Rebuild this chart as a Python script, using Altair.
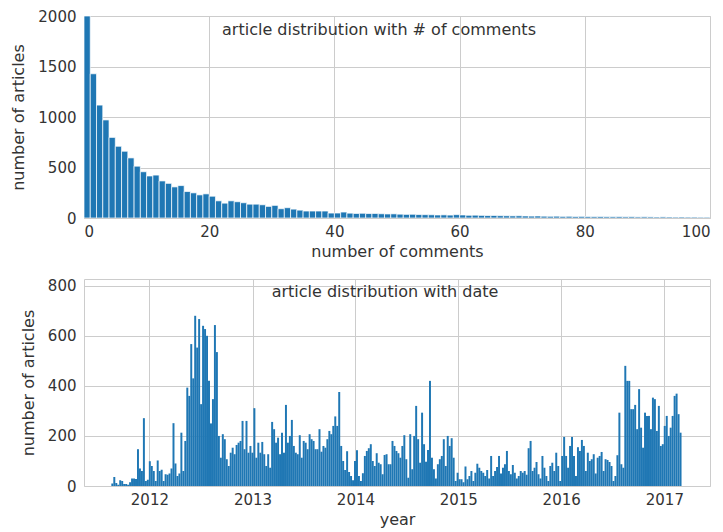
import altair as alt
import pandas as pd

# ---------------- top panel: histogram of comment counts ----------------
comment_bins = list(range(100))
comment_counts = [
    2000, 1428, 1118, 971, 798, 710, 661, 595, 513, 458,
    416, 425, 367, 343, 308, 321, 262, 249, 229, 239,
    216, 170, 147, 170, 161, 151, 137, 137, 131, 115,
    125, 92, 102, 88, 78, 69, 69, 69, 69, 49,
    49, 59, 48, 45, 47, 44, 45, 42, 40, 41,
    38, 36, 37, 34, 33, 32, 30, 31, 29, 33,
    30, 27, 28, 26, 24, 25, 23, 22, 21, 22,
    20, 19, 20, 18, 17, 18, 16, 17, 15, 16,
    15, 14, 15, 13, 13, 14, 12, 13, 11, 12,
    11, 10, 11, 10, 9, 10, 9, 9, 8, 8,
]
top_title = "article distribution with # of comments"
top_xticks = [0, 20, 40, 60, 80, 100]
top_yticks = [0, 500, 1000, 1500, 2000]

# ---------------- bottom panel: weekly article counts ----------------
weeks_2011_2012 = [10, 36, 12, 5, 23, 20, 8, 8, 5, 15,
                   30, 30, 28, 147, 70, 60, 271, 20, 25, 99,
                   80, 60, 20, 102, 60, 65, 20, 47, 45, 50,
                   70, 251, 90, 40, 50, 213, 60, 180, 393, 360,
                   567, 430, 680, 553, 667, 327, 640, 627, 600, 420,
                   250]
weeks_2012_2013 = [347, 643, 535, 200, 113, 207, 187, 107, 80, 133,
                   153, 127, 164, 173, 180, 260, 147, 260, 133, 160,
                   133, 311, 113, 173, 133, 176, 127, 80, 127, 73,
                   256, 227, 173, 193, 127, 213, 133, 324, 173, 200,
                   264, 160, 133, 127, 203, 113, 180, 173, 147, 207,
                   187, 180, 147]
weeks_2014 = [147, 227, 137, 160, 153, 187, 220, 207, 240, 278,
              240, 376, 160, 100, 64, 139, 56, 40, 23, 100,
              143, 40, 20, 51, 120, 140, 151, 167, 100, 80,
              131, 93, 87, 47, 124, 127, 87, 87, 180, 160,
              140, 131, 113, 160, 203, 107, 33, 207, 67, 200,
              320, 187, 93]
weeks_2015 = [293, 167, 97, 144, 420, 113, 67, 30, 87, 107,
              120, 187, 80, 200, 160, 191, 113, 20, 53, 27,
              27, 15, 78, 27, 40, 60, 20, 53, 89, 73,
              60, 53, 40, 64, 30, 120, 40, 60, 76, 120,
              50, 73, 87, 140, 60, 47, 84, 53, 30, 40,
              60, 53, 60, 45]
weeks_2016 = [151, 180, 60, 73, 96, 47, 30, 120, 73, 40,
              20, 80, 93, 60, 133, 80, 20, 120, 196, 120,
              73, 160, 196, 120, 40, 155, 140, 184, 160, 60,
              133, 100, 107, 127, 50, 113, 120, 136, 60, 107,
              104, 96, 80, 20, 40, 123, 293, 87, 73, 480,
              420, 420, 307]
weeks_2016_2017 = [307, 324, 227, 387, 233, 153, 293, 280, 280, 227,
                   353, 347, 220, 320, 160, 167, 240, 280, 200, 233,
                   280, 360, 369, 287, 213]
first_week = "2011-08-19"
bottom_title = "article distribution with date"
bottom_yticks = [0, 200, 400, 600, 800]
year_ticks = [2012, 2013, 2014, 2015, 2016, 2017]

BLUE = "#1f77b4"
TEXT = "#333333"
FONT = "DejaVu Sans"

top_df = pd.DataFrame({
    "lo": comment_bins,
    "hi": [b + 1 for b in comment_bins],
    "n": comment_counts,
})

weekly = (weeks_2011_2012 + weeks_2012_2013 + weeks_2014 + weeks_2015
          + weeks_2016 + weeks_2016_2017)
start = pd.Timestamp(first_week)
d0 = [start + pd.Timedelta(days=7 * i) for i in range(len(weekly))]
d1 = [d + pd.Timedelta(days=7) for d in d0]
bot_df = pd.DataFrame({
    "d0": [d.strftime("%Y-%m-%dT00:00:00Z") for d in d0],
    "d1": [d.strftime("%Y-%m-%dT00:00:00Z") for d in d1],
    "n": weekly,
})

top_bars = alt.Chart(top_df).mark_bar(
    color=BLUE, stroke="white", strokeWidth=0.7, clip=True
).encode(
    x=alt.X("lo:Q", scale=alt.Scale(domain=[0, 100], nice=False, zero=False),
            axis=alt.Axis(values=top_xticks, title="number of comments")),
    x2="hi:Q",
    y=alt.Y("n:Q", scale=alt.Scale(domain=[0, 2000], nice=False),
            axis=alt.Axis(values=top_yticks, format="d", title="number of articles")),
    y2=alt.datum(0),
)
top_text = alt.Chart(pd.DataFrame({"t": [top_title]})).mark_text(
    font=FONT, fontSize=16, color=TEXT, align="center", baseline="middle"
).encode(text="t:N", x=alt.value(295), y=alt.value(13.5))
top = alt.layer(top_bars, top_text).properties(width=626, height=202)

bot_bars = alt.Chart(bot_df).mark_bar(color=BLUE, clip=True).encode(
    x=alt.X("d0:T",
            scale=alt.Scale(type="utc", domain=[
                alt.DateTime(year=2011, month=5, date=14, utc=True),
                alt.DateTime(year=2017, month=6, date=12, utc=True)]),
            axis=alt.Axis(values=[alt.DateTime(year=y, month=1, date=1, utc=True)
                                  for y in year_ticks],
                          format="%Y", title="year")),
    x2="d1:T",
    y=alt.Y("n:Q", scale=alt.Scale(domain=[0, 827], nice=False),
            axis=alt.Axis(values=bottom_yticks, format="d", title="number of articles")),
    y2=alt.datum(0),
)
bot_text = alt.Chart(pd.DataFrame({"t": [bottom_title]})).mark_text(
    font=FONT, fontSize=16, color=TEXT, align="center", baseline="middle"
).encode(text="t:N", x=alt.value(301), y=alt.value(12.7))
bottom = alt.layer(bot_bars, bot_text).properties(width=626, height=207)

chart = alt.vconcat(top, bottom, spacing=18).properties(
    padding={"left": 2, "top": 0, "right": 0, "bottom": 0}
).configure_axis(
    domain=False, ticks=False, grid=True, gridColor="#cccccc", gridWidth=1,
    labelFont=FONT, labelFontSize=15, labelColor=TEXT, labelPadding=6,
    titleFont=FONT, titleFontSize=16, titleColor=TEXT, titleFontWeight="normal",
    titlePadding=4,
).configure_axisY(
    labelPadding=8, titlePadding=11,
).configure_view(
    stroke="#cccccc", strokeWidth=1,
)

chart.save("out.html", embed_options={"renderer": "svg", "actions": False})
